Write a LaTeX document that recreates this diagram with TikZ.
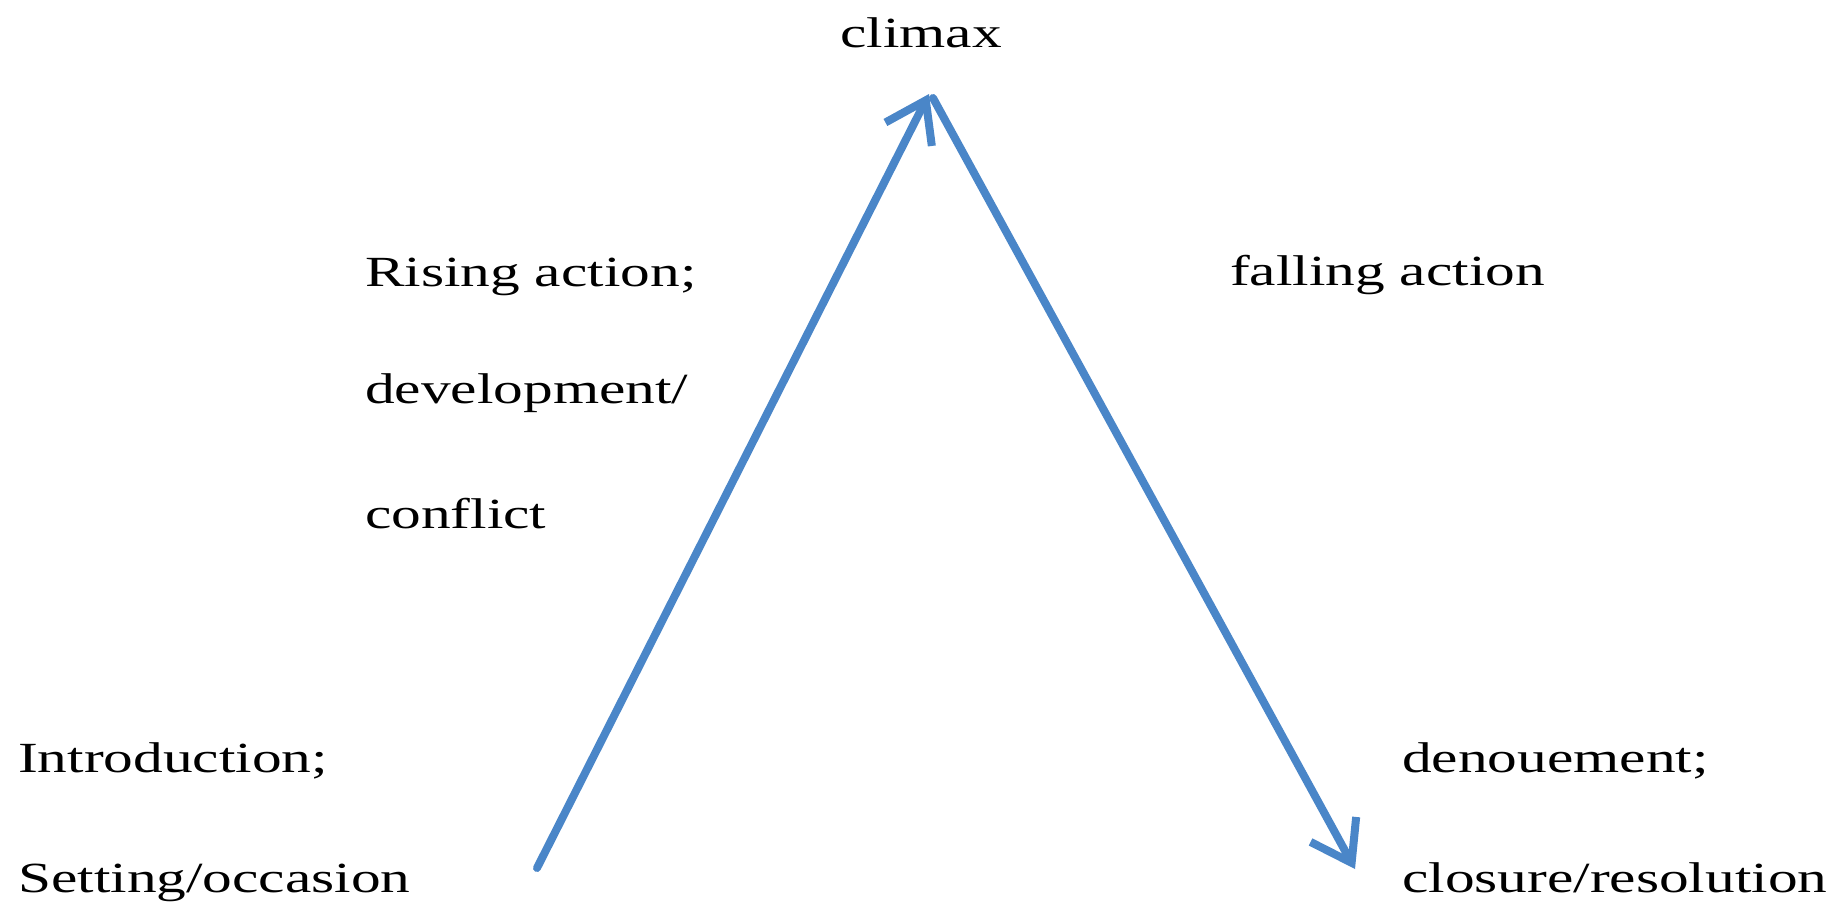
\documentclass[tikz,border=0pt]{standalone}
\usepackage{fontspec}
\setmainfont{Liberation Serif}[FakeStretch=1.38]
\usetikzlibrary{arrows.meta}
\definecolor{arrowblue}{RGB}{74,134,200}
\tikzset{
  lbl/.style={anchor=base west, inner sep=0pt, font=\fontsize{43}{50}\selectfont, text=black},
  plotarrow/.style={draw=arrowblue, line width=8pt, line cap=round,
    -{Straight Barb[length=38pt, width=52pt, line join=miter]}}
}
\begin{document}
\begin{tikzpicture}[x=1pt,y=-1pt]
\useasboundingbox (0,0) rectangle (1845,905);
\fill[white] (0,0) rectangle (1845,905);
\node[lbl] (climax) at (840,47) {climax};
\node[lbl] (rising) at (365,286) {Rising action;};
\node[lbl] (devel) at (365,403) {development/};
\node[lbl] (conflict) at (365,528) {conflict};
\node[lbl] (falling) at (1230,285) {falling action};
\node[lbl] (intro) at (18,772) {Introduction;};
\node[lbl] (setting) at (18,892) {Setting/occasion};
\node[lbl] (denoue) at (1402,772) {denouement;};
\node[lbl] (closure) at (1402,892) {closure/resolution};
\coordinate (start) at (537,868);
\coordinate (peak) at (929,94);
\coordinate (peakb) at (933,98);
\coordinate (finish) at (1355,869);
\draw[plotarrow] (start) -- (peak);
\draw[plotarrow] (peakb) -- (finish);
\end{tikzpicture}
\end{document}
